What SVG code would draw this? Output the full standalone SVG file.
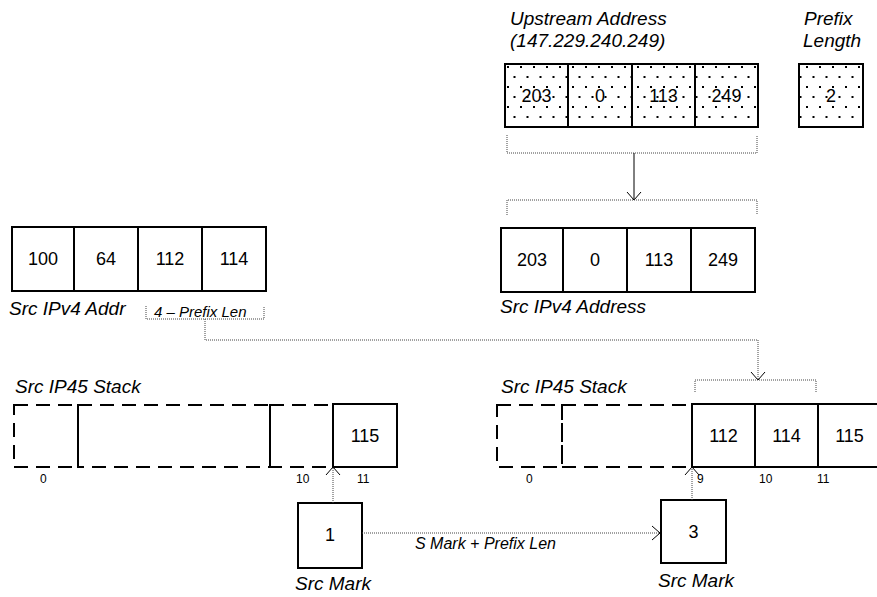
<svg xmlns="http://www.w3.org/2000/svg" width="877" height="597" viewBox="0 0 877 597">
<style>
text{font-family:"Liberation Sans",Arial,sans-serif;fill:#000}
.lbl{font-size:19px;font-style:italic}
.num{font-size:18px;text-anchor:middle}
.idx{font-size:12px}
.small{font-size:15px;font-style:italic}
.box{fill:#fff;stroke:#000;stroke-width:2}
.dbox{fill:url(#dots);stroke:#000;stroke-width:2}
.dash{fill:none;stroke:#000;stroke-width:2;stroke-dasharray:14 8}
.dot{fill:none;stroke:#444;stroke-width:1;stroke-dasharray:1 1}
.solid{fill:none;stroke:#000;stroke-width:1}
</style>
<defs>
<pattern id="dots" patternUnits="userSpaceOnUse" width="13" height="20" x="505" y="64">
<rect width="13" height="20" fill="#fff"/>
<rect x="2" y="2" width="2" height="2" fill="#000"/>
<rect x="8.5" y="12" width="2" height="2" fill="#000"/>
</pattern>
<marker id="arr" markerUnits="userSpaceOnUse" markerWidth="20" markerHeight="20" refX="10" refY="10" orient="auto" viewBox="0 0 20 20">
<path d="M2,3 L10,10 L2,17" fill="none" stroke="#000" stroke-width="1"/>
</marker>
</defs>

<g id="upstream-title">
<text class="lbl" x="510" y="25">Upstream Address</text>
<text class="lbl" x="510" y="47">(147.229.240.249)</text>
</g>
<g id="upstream-address">
<rect class="dbox" x="505" y="64" width="63" height="63"/>
<rect class="dbox" x="568" y="64" width="64" height="63"/>
<rect class="dbox" x="632" y="64" width="63" height="63"/>
<rect class="dbox" x="695" y="64" width="63" height="63"/>
<text class="num" x="536.5" y="102">203</text>
<text class="num" x="600" y="102">0</text>
<text class="num" x="663.5" y="102">113</text>
<text class="num" x="726.5" y="102">249</text>
</g>
<g id="prefix-length">
<text class="lbl" x="804" y="25">Prefix</text>
<text class="lbl" x="803" y="47">Length</text>
<rect class="dbox" x="799" y="64" width="64" height="63"/>
<text class="num" x="831" y="102">2</text>
</g>

<g id="src-ipv4-addr-left">
<rect class="box" x="12" y="227" width="62" height="64"/>
<rect class="box" x="74" y="227" width="64" height="64"/>
<rect class="box" x="138" y="227" width="64" height="64"/>
<rect class="box" x="202" y="227" width="64" height="64"/>
<text class="num" x="43" y="265">100</text>
<text class="num" x="106" y="265">64</text>
<text class="num" x="170" y="265">112</text>
<text class="num" x="234" y="265">114</text>
<text class="lbl" x="9" y="315">Src IPv4 Addr</text>
</g>
<g id="prefix-len-label">
<text class="small" x="154" y="317">4 – Prefix Len</text>
</g>

<g id="src-ipv4-address-right">
<rect class="box" x="501" y="228" width="62" height="64"/>
<rect class="box" x="563" y="228" width="64" height="64"/>
<rect class="box" x="627" y="228" width="64" height="64"/>
<rect class="box" x="691" y="228" width="64" height="64"/>
<text class="num" x="532" y="266">203</text>
<text class="num" x="595" y="266">0</text>
<text class="num" x="659" y="266">113</text>
<text class="num" x="723" y="266">249</text>
<text class="lbl" x="500" y="313">Src IPv4 Address</text>
</g>

<g id="stack-left">
<text class="lbl" x="15" y="393">Src IP45 Stack</text>
<rect class="dash" x="14" y="405" width="64" height="62"/>
<rect class="dash" x="78" y="405" width="192" height="62"/>
<rect class="dash" x="270" y="405" width="63" height="62"/>
<rect class="box" x="333" y="404" width="64" height="63"/>
<text class="num" x="365" y="442">115</text>
<text class="idx" x="40" y="483">0</text>
<text class="idx" x="296" y="483">10</text>
<text class="idx" x="357" y="483">11</text>
</g>

<g id="stack-right">
<text class="lbl" x="501" y="393">Src IP45 Stack</text>
<rect class="dash" x="497" y="405" width="65" height="62"/>
<rect class="dash" x="562" y="405" width="130" height="62"/>
<rect class="box" x="692" y="404" width="63" height="63"/>
<rect class="box" x="755" y="404" width="63" height="63"/>
<rect class="box" x="818" y="404" width="63" height="63"/>
<text class="num" x="723.5" y="442">112</text>
<text class="num" x="786.5" y="442">114</text>
<text class="num" x="849.5" y="442">115</text>
<text class="idx" x="526" y="483">0</text>
<text class="idx" x="697" y="483">9</text>
<text class="idx" x="759" y="483">10</text>
<text class="idx" x="817" y="483">11</text>
</g>

<g id="src-mark-left">
<rect class="box" x="298" y="503" width="64" height="65"/>
<text class="num" x="330" y="541">1</text>
<text class="lbl" x="295" y="590">Src Mark</text>
</g>
<g id="src-mark-right">
<rect class="box" x="661" y="500" width="65" height="63"/>
<text class="num" x="693.5" y="538">3</text>
<text class="lbl" x="658" y="587">Src Mark</text>
</g>

<g id="connectors">
<path class="dot" d="M507,135 V153 H757 V135"/>
<line class="solid" x1="634" y1="153" x2="634" y2="200" marker-end="url(#arr)"/>
<path class="dot" d="M507,215 V200 H757 V215"/>
<path class="dot" d="M146,306 V319 H264 V306"/>
<path class="dot" d="M205,319 V340 H758 V380" marker-end="url(#arr)"/>
<path class="dot" d="M695,392 V380 H816 V392"/>
<line class="dot" x1="333" y1="503" x2="333" y2="467" marker-end="url(#arr)"/>
<line class="dot" x1="692" y1="500" x2="692" y2="467" marker-end="url(#arr)"/>
<line class="dot" x1="362" y1="533" x2="660" y2="533" marker-end="url(#arr)"/>
<text x="415" y="549" style="font-size:16px;font-style:italic">S Mark + Prefix Len</text>
</g>
</svg>
